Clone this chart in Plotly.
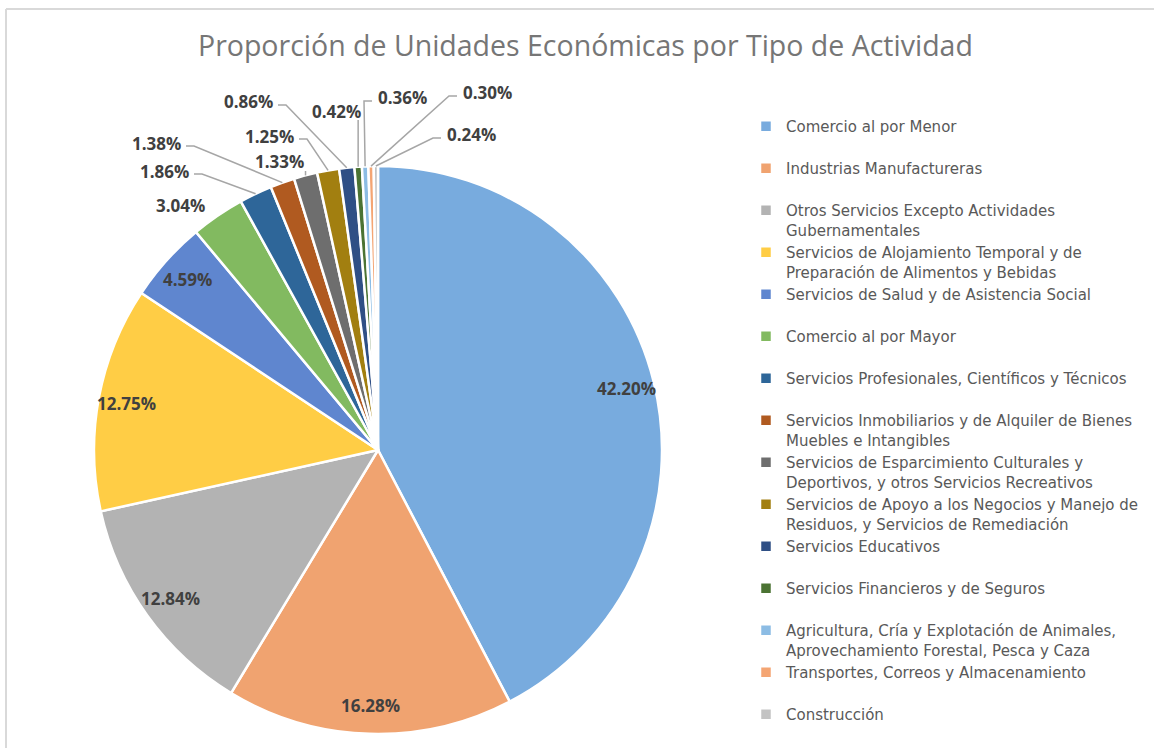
import math
import plotly.graph_objects as go

# ---------------- data ----------------
categories = [
    "Comercio al por Menor",
    "Industrias Manufactureras",
    "Otros Servicios Excepto Actividades<br>Gubernamentales",
    "Servicios de Alojamiento Temporal y de<br>Preparación de Alimentos y Bebidas",
    "Servicios de Salud y de Asistencia Social",
    "Comercio al por Mayor",
    "Servicios Profesionales, Científicos y Técnicos",
    "Servicios Inmobiliarios y de Alquiler de Bienes<br>Muebles e Intangibles",
    "Servicios de Esparcimiento Culturales y<br>Deportivos, y otros Servicios Recreativos",
    "Servicios de Apoyo a los Negocios y Manejo de<br>Residuos, y Servicios de Remediación",
    "Servicios Educativos",
    "Servicios Financieros y de Seguros",
    "Agricultura, Cría y Explotación de Animales,<br>Aprovechamiento Forestal, Pesca y Caza",
    "Transportes, Correos y Almacenamiento",
    "Construcción",
]
percentages = [42.20, 16.28, 12.84, 12.75, 4.59, 3.04, 1.86, 1.38, 1.33, 1.25,
               0.86, 0.42, 0.36, 0.30, 0.24]
title_text = "Proporción de Unidades Económicas por Tipo de Actividad"

# ---------------- styles / layout ----------------
W, H = 1154, 748
CX, CY, R = 378, 450, 284          # pie centre and radius in pixels
colors = ["#78ABDE", "#F0A370", "#B3B3B3", "#FFCD45", "#5F86CF", "#82BA60",
          "#2E6699", "#B05A20", "#6E6E6E", "#A27F10", "#2F4F85", "#4B7333",
          "#8CBCE4", "#F4A573", "#C3C3C3"]
label_font = dict(family="Open Sans", size=17, color="#404040", weight="bold")
inside_radius = 0.90
# outside label placement (pixel centre, side the leader line leaves from)
outside_labels = {
    5: (180, 205, None),
    6: (164, 171, "r"),
    7: (156, 143, "r"),
    8: (279, 162, "b"),
    9: (269, 136, "r"),
    10: (248, 102, "r"),
    11: (336, 111, "b"),
    12: (402, 98, "l"),
    13: (487, 93, "l"),
    14: (471, 135, "l"),
}


def px(x):
    return x / W


def py(y):
    return 1 - y / H


# legend labels: every item takes two lines, as in the reference
legend_labels = [c if "<br>" in c else c + "<br> " for c in categories]

fig = go.Figure()
fig.add_trace(go.Pie(
    labels=legend_labels,
    values=percentages,
    sort=False,
    direction="clockwise",
    rotation=0,
    marker=dict(colors=colors, line=dict(color="white", width=2.5)),
    textinfo="none",
    hoverinfo="label+value",
    domain=dict(x=[px(CX - R), px(CX + R)], y=[py(CY + R), py(CY - R)]),
))

total = sum(percentages)
annotations = []
shapes = []
cum = 0.0
for i, v in enumerate(percentages):
    mid = (cum + v / 2) / total * 2 * math.pi
    cum += v
    sx, sy = math.sin(mid), -math.cos(mid)
    txt = f"{v:.2f}%"
    if i not in outside_labels:
        lx, ly = CX + inside_radius * R * sx, CY + inside_radius * R * sy
        annotations.append(dict(x=px(lx), y=py(ly), xref="paper", yref="paper",
                                text=txt, showarrow=False, font=label_font,
                                xanchor="center", yanchor="middle"))
        continue
    lx, ly, side = outside_labels[i]
    annotations.append(dict(x=px(lx), y=py(ly), xref="paper", yref="paper",
                            text=txt, showarrow=False, font=label_font,
                            xanchor="center", yanchor="middle"))
    if side is None:
        continue
    rx, ry = CX + R * sx, CY + R * sy
    if side == "r":
        ax, ay = lx + 30, ly + 3
        pts = [(ax, ay), (ax + 8, ay), (rx, ry)]
    elif side == "l":
        ax, ay = lx - 30, ly + 3
        pts = [(ax, ay), (ax - 8, ay), (rx, ry)]
    else:
        pts = [(rx, ly + 9), (rx, ry)]
    path = "M " + " L ".join(f"{px(a)},{py(b)}" for a, b in pts)
    shapes.append(dict(type="path", path=path, xref="paper", yref="paper",
                       line=dict(color="#A6A6A6", width=1.5)))

# outer frame (top and left edges visible)
shapes.append(dict(type="line", xref="paper", yref="paper",
                   x0=px(6), x1=1.02, y0=py(9), y1=py(9),
                   line=dict(color="#D9D9D9", width=2)))
shapes.append(dict(type="line", xref="paper", yref="paper",
                   x0=px(6), x1=px(6), y0=py(9), y1=-0.02,
                   line=dict(color="#D9D9D9", width=2)))

annotations.append(dict(x=px(585), y=py(45), xref="paper", yref="paper",
                        text=title_text, showarrow=False,
                        font=dict(family="Open Sans", size=28.5, color="#767676"),
                        xanchor="center", yanchor="middle"))

fig.update_layout(
    width=W, height=H,
    margin=dict(l=0, r=0, t=0, b=0, autoexpand=False),
    paper_bgcolor="white", plot_bgcolor="white",
    showlegend=True,
    legend=dict(x=px(746), xanchor="left", y=py(110), yanchor="top",
                valign="top", font=dict(family="DejaVu Sans", size=15, color="#595959"),
                bgcolor="rgba(0,0,0,0)", traceorder="normal"),
    annotations=annotations,
    shapes=shapes,
)

fig.write_html("out.html", config={"displayModeBar": False},
               post_script="document.body.style.margin='0';")
